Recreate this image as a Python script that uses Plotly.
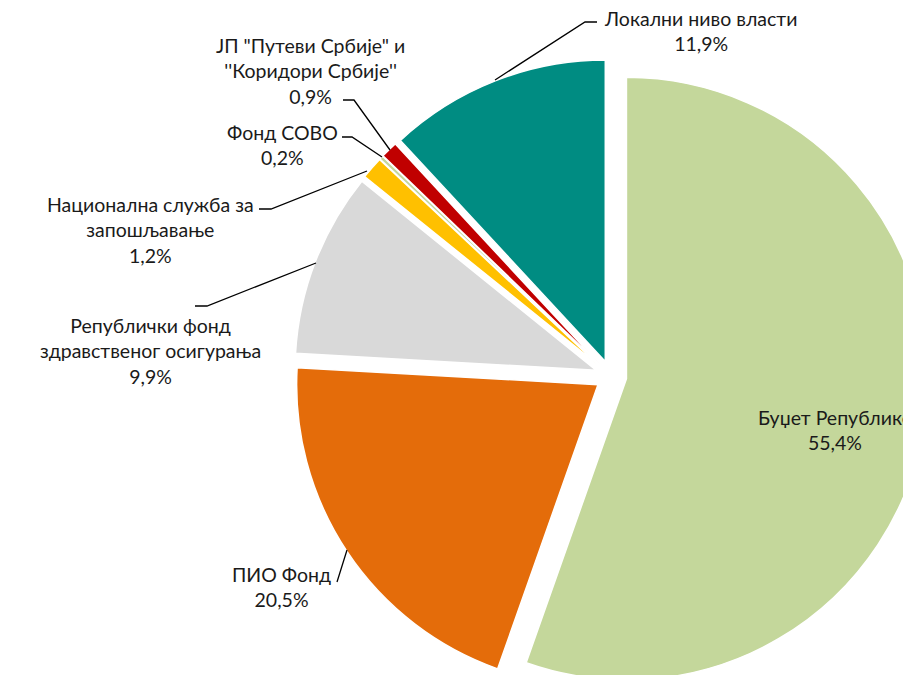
import plotly.graph_objects as go

labels = ['Буџет Републике', 'ПИО Фонд', 'Републички фонд здравственог осигурања',
          'Национална служба за запошљавање', 'Фонд СОВО',
          'ЈП "Путеви Србије" и \'\'Коридори Србије\'\'', 'Локални ниво власти']
values = [55.4, 20.5, 9.9, 1.2, 0.2, 0.9, 11.9]
colors = ['#C4D79B', '#E46C0A', '#D9D9D9', '#FFC000', '#C4D79B', '#C00000', '#008C82']
pulls = [0.052] * 7

# figure is bigger than the window so the pie gets cut at right/bottom like the original
W, H = 1000, 760
FONT = 'Lato, Noto Sans, sans-serif'
CX, CY, HALF = 611, 376, 317


def px_x(x):
    return x / W


def px_y(y):
    return 1 - y / H


fig = go.Figure(go.Pie(
    labels=labels,
    values=values,
    sort=False,
    direction='clockwise',
    rotation=0,
    pull=pulls,
    marker=dict(colors=colors, line=dict(color='white', width=1.5)),
    textinfo='none',
    hoverinfo='label+percent',
    domain=dict(x=[(CX - HALF) / W, (CX + HALF) / W],
                y=[1 - (CY + HALF) / H, 1 - (CY - HALF) / H]),
    showlegend=False,
))

# labels: (text, x, y) in pixels
label_pos = [
    ('Буџет Републике<br>55,4%', 835, 430),
    ('Локални ниво власти<br>11,9%', 700, 31),
    ('ЈП "Путеви Србије" и<br>\'\'Коридори Србије\'\'<br>0,9%', 310, 71),
    ('Фонд СОВО<br>0,2%', 282, 145),
    ('Национална служба за<br>запошљавање<br>1,2%', 150, 230),
    ('Републички фонд<br>здравственог осигурања<br>9,9%', 150, 351),
    ('ПИО Фонд<br>20,5%', 281, 587),
]
annotations = []
for txt, x, y in label_pos:
    annotations.append(dict(
        text=txt, x=px_x(x), y=px_y(y), xref='paper', yref='paper',
        xanchor='center', yanchor='middle', showarrow=False, align='center',
        font=dict(family=FONT, size=19.5, color='#1a1a1a'),
    ))

# leader lines (pixel polylines)
leaders = [
    [(597, 22), (585, 22), (495, 80)],
    [(343, 100), (354, 100), (390, 150)],
    [(342, 137), (352, 137), (382, 157)],
    [(259, 209), (271, 209), (367, 171)],
    [(195, 306), (207, 306), (316, 263)],
    [(337, 582), (347, 550)],
]
shapes = []
for pts in leaders:
    path = 'M ' + ' L '.join(f'{px_x(x)},{px_y(y)}' for x, y in pts)
    shapes.append(dict(type='path', path=path, xref='paper', yref='paper',
                       line=dict(color='black', width=1.3)))

fig.update_layout(
    width=W,
    height=H,
    margin=dict(l=0, r=0, t=0, b=0),
    separators=', ',
    paper_bgcolor='white',
    plot_bgcolor='white',
    annotations=annotations,
    shapes=shapes,
)

fig.write_html('out.html', post_script=(
    "document.documentElement.style.overflow='hidden';"
    "document.body.style.overflow='hidden';"
    "document.body.style.margin='0';"
))
